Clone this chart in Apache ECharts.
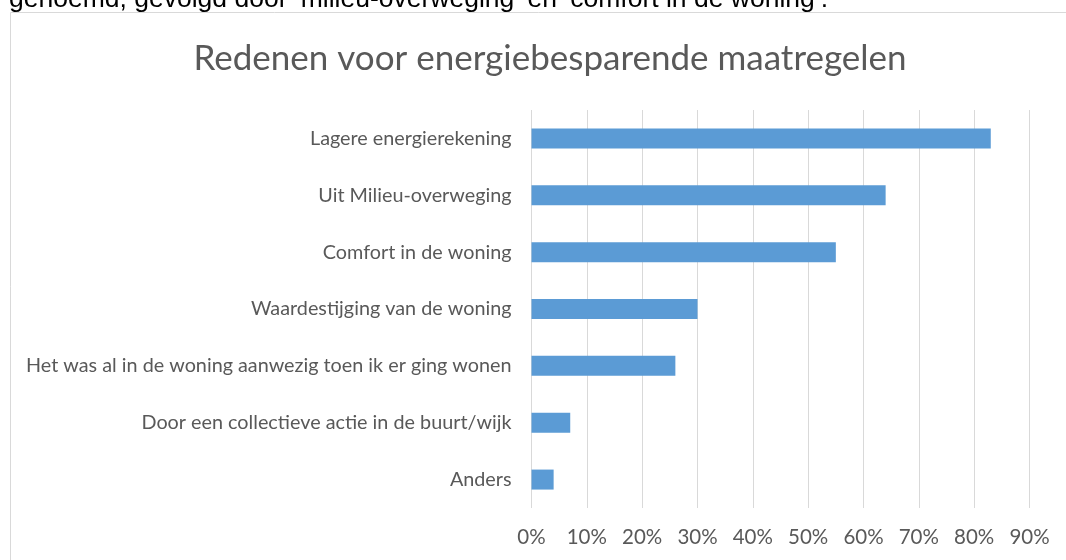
<!DOCTYPE html>
<html>
<head>
<meta charset="utf-8">
<script src="https://cdn.jsdelivr.net/npm/echarts@6/dist/echarts.min.js"></script>
<style>
  html, body { margin: 0; padding: 0; background: #fff; }
  #chart { width: 1066px; height: 560px; }
</style>
</head>
<body>
<div id="chart"></div>
<script>
var categories = [
  'Lagere energierekening',
  'Uit Milieu-overweging',
  'Comfort in de woning',
  'Waardestijging van de woning',
  'Het was al in de woning aanwezig toen ik er ging wonen',
  'Door een collectieve actie in de buurt/wijk',
  'Anders'
]
var percentages = [83, 64, 55, 30, 26, 7, 4]
var axisMax = 90
var axisStep = 10

var textColor = '#595959'
var gridColor = '#D9D9D9'
var barColor = '#5B9BD5'

var chart = echarts.init(document.getElementById('chart'))

var option = {
  animation: false,
  title: {
    text: 'Redenen voor energiebesparende maatregelen',
    left: 545,
    textAlign: 'center',
    top: 36,
    textStyle: {fontFamily: 'Lato', fontWeight: 'normal', fontSize: 35, color: textColor}
  },
  graphic: [
    {type: 'rect', shape: {x: 10.5, y: 12.5, width: 1100, height: 600}, style: {fill: null, stroke: gridColor, lineWidth: 1}, silent: true},
    {type: 'text', x: 9, y: -14, style: {text: 'genoemd, gevolgd door \u2018milieu-overweging\u2019 en \u2018comfort in de woning\u2019.', fill: '#000', font: '26.5px "Liberation Sans"', verticalAlign: 'top'}}
  ],
  grid: {left: 531.5, right: 36.5, top: 110, bottom: 52, containLabel: false},
  xAxis: {
    type: 'value',
    min: 0,
    max: axisMax,
    interval: axisStep,
    axisLine: {show: false},
    axisTick: {show: false},
    axisLabel: {formatter: '{value}%', color: textColor, fontFamily: 'Lato', fontSize: 20.5, margin: 19},
    splitLine: {lineStyle: {color: gridColor, width: 1}}
  },
  yAxis: {
    type: 'category',
    inverse: true,
    data: categories,
    axisLine: {show: false},
    axisTick: {show: false},
    axisLabel: {color: textColor, fontFamily: 'Lato', fontSize: 19.8, margin: 20}
  },
  series: [{
    type: 'bar',
    data: percentages,
    barWidth: 20,
    itemStyle: {color: barColor}
  }]
}

chart.setOption(option)
</script>
</body>
</html>
